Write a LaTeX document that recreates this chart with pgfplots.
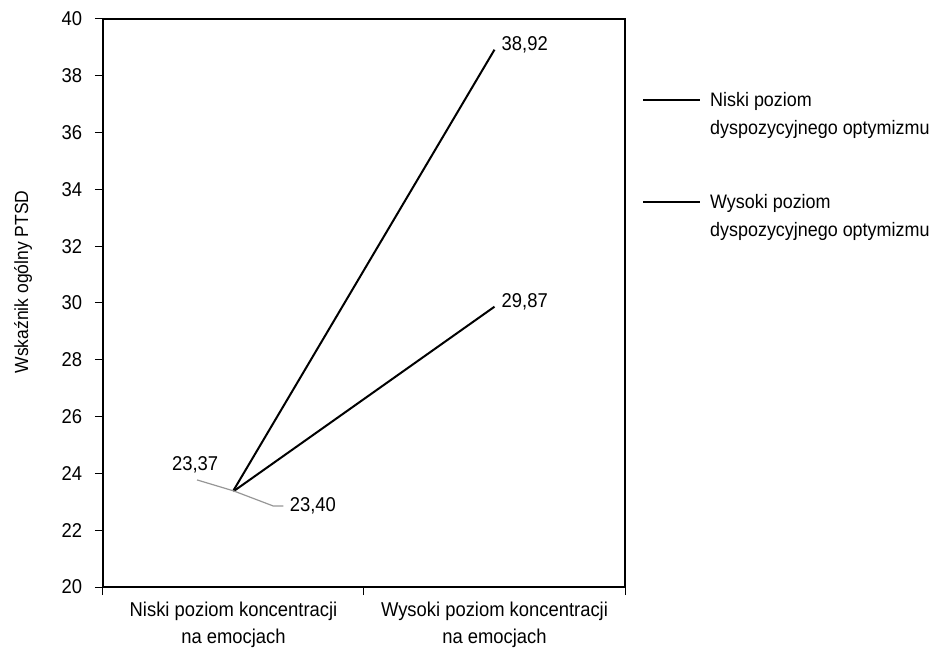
\documentclass[border=0pt]{standalone}
\usepackage{fontspec}
\setmainfont{Liberation Sans}[FakeStretch=0.92]
\usepackage{pgfplots}
\pgfplotsset{compat=1.18}
\definecolor{leader}{RGB}{150,150,150}
\begin{document}
\fontsize{20}{24}\selectfont
\begin{tikzpicture}[x=1pt,y=1pt]
\useasboundingbox (-103,-64) rectangle (832,587);
\begin{axis}[
  at={(0,0)}, anchor=south west,
  scale only axis, width=522pt, height=568pt,
  xmin=0, xmax=2, ymin=20, ymax=40,
  xtick={0,1,2},
  xticklabels={{Niski poziom koncentracji\\na emocjach},{Wysoki poziom koncentracji\\na emocjach}},
  x tick label as interval,
  ytick={20,22,...,40},
  tick align=outside, xtick pos=bottom, ytick pos=left,
  major tick length=8pt,
  axis line style={line width=1.2pt},
  every tick/.style={line width=1pt, black},
  /pgf/number format/assume math mode=true,
  ticklabel style={font=\fontsize{20}{27}\selectfont},
  x tick label style={align=center},
  y tick label style={xshift=-6pt},
  ylabel={Wskaźnik ogólny PTSD},
  ylabel style={at={(axis description cs:-0.153,0.537)}, anchor=center, font=\fontsize{19}{22}\selectfont},
  clip=false,
]
% Niski poziom dyspozycyjnego optymizmu
\addplot[black, line width=2pt] coordinates {(0.5,23.40) (1.5,38.92)};
% Wysoki poziom dyspozycyjnego optymizmu
\addplot[black, line width=2pt] coordinates {(0.5,23.37) (1.5,29.87)};
% data labels
\node[anchor=west, inner sep=0pt, xshift=7pt, yshift=5pt] at (axis cs:1.5,38.92) {38,92};
\node[anchor=west, inner sep=0pt, xshift=7pt, yshift=5pt] at (axis cs:1.5,29.87) {29,87};
\draw[leader, line width=1.2pt] (axis cs:0.3605,23.77) -- (axis cs:0.5,23.385);
\node[anchor=center, inner sep=0pt] at (axis cs:0.353,24.30) {23,37};
\draw[leader, line width=1.2pt] (axis cs:0.5,23.385) -- (axis cs:0.653,22.85) -- (axis cs:0.691,22.85);
\node[anchor=west, inner sep=0pt] at (axis cs:0.715,22.85) {23,40};
% legend
\draw[black, line width=2pt] (axis description cs:1.0345,0.8574) -- (axis description cs:1.1437,0.8574);
\draw[black, line width=2pt] (axis description cs:1.0345,0.6778) -- (axis description cs:1.1437,0.6778);
\begin{scope}[every node/.style={anchor=base west, inner sep=0pt, font=\fontsize{19.5}{24}\selectfont}]
\node at (axis description cs:1.1628,0.8451) {Niski poziom};
\node at (axis description cs:1.1628,0.7958) {dyspozycyjnego optymizmu};
\node at (axis description cs:1.1628,0.6655) {Wysoki poziom};
\node at (axis description cs:1.1628,0.6162) {dyspozycyjnego optymizmu};
\end{scope}
\end{axis}
\end{tikzpicture}
\end{document}
